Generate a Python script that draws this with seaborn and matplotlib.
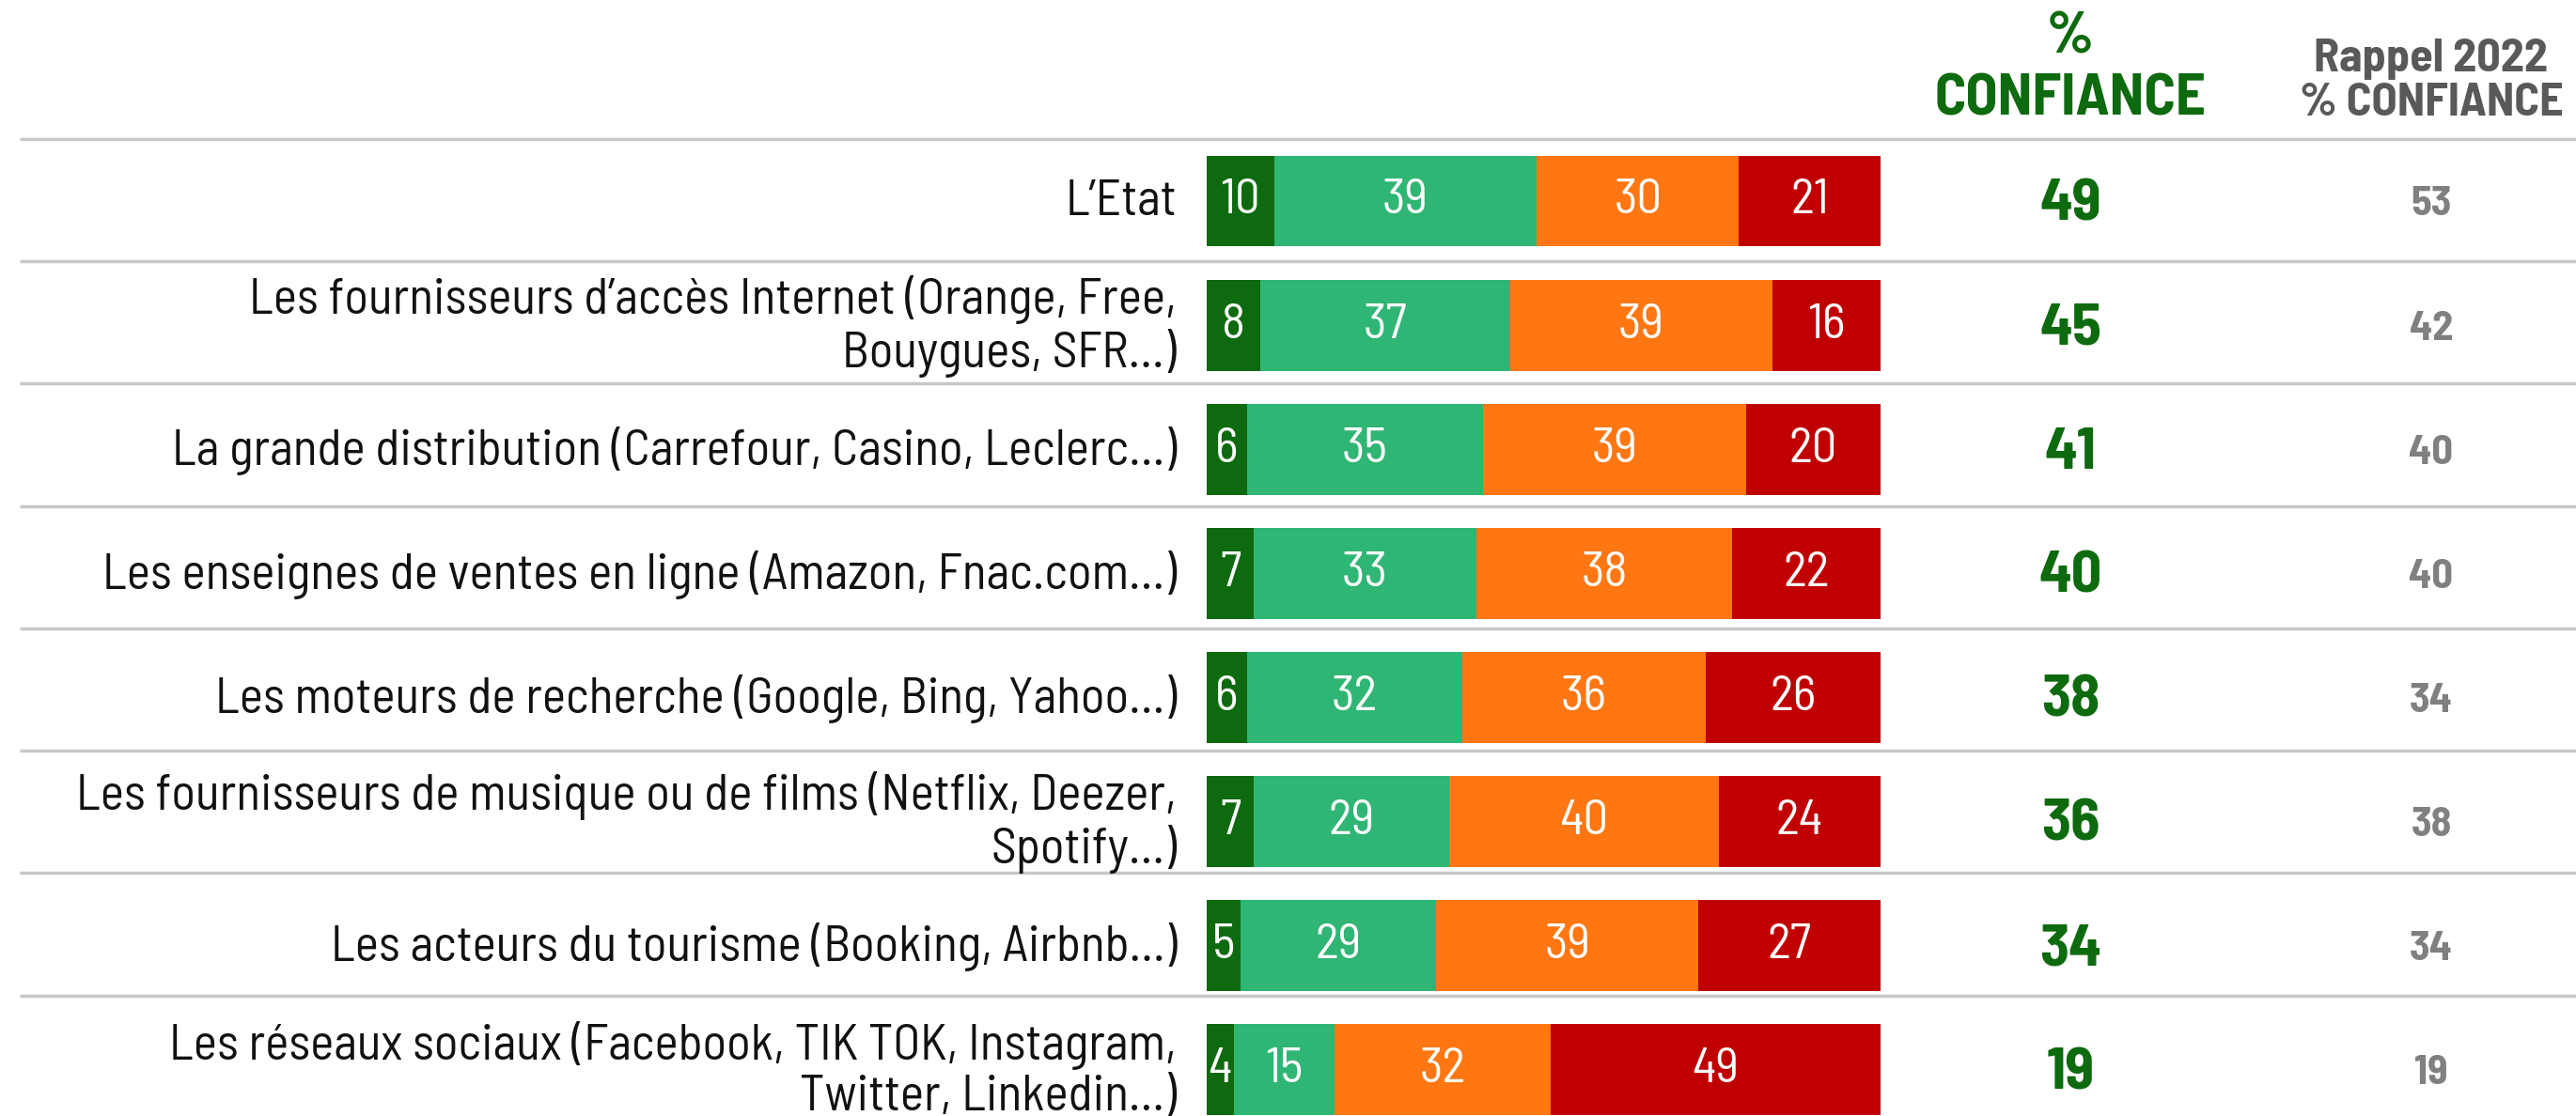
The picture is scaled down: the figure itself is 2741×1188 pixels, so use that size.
import matplotlib
matplotlib.use("Agg")
import matplotlib.pyplot as plt
import seaborn as sns
import pandas as pd
import numpy as np

categories = [
    "L\u2019Etat",
    "Les fournisseurs d\u2019acc\u00e8s Internet (Orange, Free,\nBouygues, SFR\u2026)",
    "La grande distribution (Carrefour, Casino, Leclerc\u2026)",
    "Les enseignes de ventes en ligne (Amazon, Fnac.com\u2026)",
    "Les moteurs de recherche (Google, Bing, Yahoo\u2026)",
    "Les fournisseurs de musique ou de films (Netflix, Deezer,\nSpotify\u2026)",
    "Les acteurs du tourisme (Booking, Airbnb\u2026)",
    "Les r\u00e9seaux sociaux (Facebook, TIK TOK, Instagram,\nTwitter, Linkedin\u2026)",
]
tout_a_fait = [10, 8, 6, 7, 6, 7, 5, 4]
plutot_oui = [39, 37, 35, 33, 32, 29, 29, 15]
plutot_non = [30, 39, 39, 38, 36, 40, 39, 32]
pas_du_tout = [21, 16, 20, 22, 26, 24, 27, 49]
confiance = [49, 45, 41, 40, 38, 36, 34, 19]
rappel_2022 = [53, 42, 40, 40, 34, 38, 34, 19]

header_conf = ["%", "CONFIANCE"]
header_rappel = ["Rappel 2022", "% CONFIANCE"]

colors = ["#0e6a0e", "#2fb574", "#ff7712", "#c00000"]
series = [tout_a_fait, plutot_oui, plutot_non, pas_du_tout]

sns.set_theme(style="white")
FONT = ["Barlow Semi Condensed", "IBM Plex Sans Condensed", "DejaVu Sans"]
plt.rcParams["font.family"] = FONT

W, H = 2741, 1188
fig = plt.figure(figsize=(W / 100, H / 100), dpi=100)
ax = fig.add_axes([0, 0, 1, 1])

df = pd.DataFrame({"cat": categories})
cum = np.zeros(len(categories))
cums = []
for s in series:
    cum = cum + np.array(s)
    cums.append(cum.copy())

for c, col in zip(reversed(cums), reversed(colors)):
    d = df.copy()
    d["val"] = c
    sns.barplot(data=d, x="val", y="cat", color=col, saturation=1,
                width=0.734, linewidth=0, ax=ax, orient="h")

px_per = 7.17
x0 = 1284
ax.set_xlim(-x0 / px_per, (W - x0) / px_per)
pitch = 132.1
y0 = 214
ax.set_ylim((H - y0) / pitch, -y0 / pitch)
ax.axis("off")


def py(p):
    return (p - y0) / pitch


for i in range(len(categories)):
    left = 0
    for s in series:
        v = s[i]
        ax.text(left + v / 2, i, str(v), ha="center", va="center",
                color="white", fontsize=38, family=FONT)
        left += v

lab_x = (1252 - x0) / px_per
for i, cat in enumerate(categories):
    ax.text(lab_x, i + 0.01, cat, ha="right", va="center", fontsize=38.5,
            color="#111111", family=FONT, linespacing=1.12)

conf_x = (2203 - x0) / px_per
rap_x = (2587 - x0) / px_per
for i in range(len(categories)):
    ax.text(conf_x, i + 0.03, str(confiance[i]), ha="center", va="center",
            fontsize=46, fontweight="bold", color="#0e6a0e", family=FONT)
    ax.text(rap_x, i + 0.03, str(rappel_2022[i]), ha="center", va="center",
            fontsize=32, fontweight="bold", color="#808080", family=FONT)

ax.text(conf_x, py(40), header_conf[0], ha="center", va="center", fontsize=45,
        fontweight="bold", color="#0e6a0e", family=FONT)
ax.text(conf_x, py(106), header_conf[1], ha="center", va="center", fontsize=45,
        fontweight="bold", color="#0e6a0e", family=FONT)
ax.text(rap_x, py(63), header_rappel[0], ha="center", va="center", fontsize=36,
        fontweight="bold", color="#595959", family=FONT)
ax.text(rap_x, py(110), header_rappel[1], ha="center", va="center", fontsize=36,
        fontweight="bold", color="#595959", family=FONT)

line_x0 = (21 - x0) / px_per
for k in range(len(categories)):
    yk = -0.5 + 0.986 * k
    ax.plot([line_x0, (W - x0) / px_per], [yk, yk], color="#c8c8c8",
            linewidth=2.5, solid_capstyle="butt", zorder=0)

fig.savefig("out.png", dpi=100)
